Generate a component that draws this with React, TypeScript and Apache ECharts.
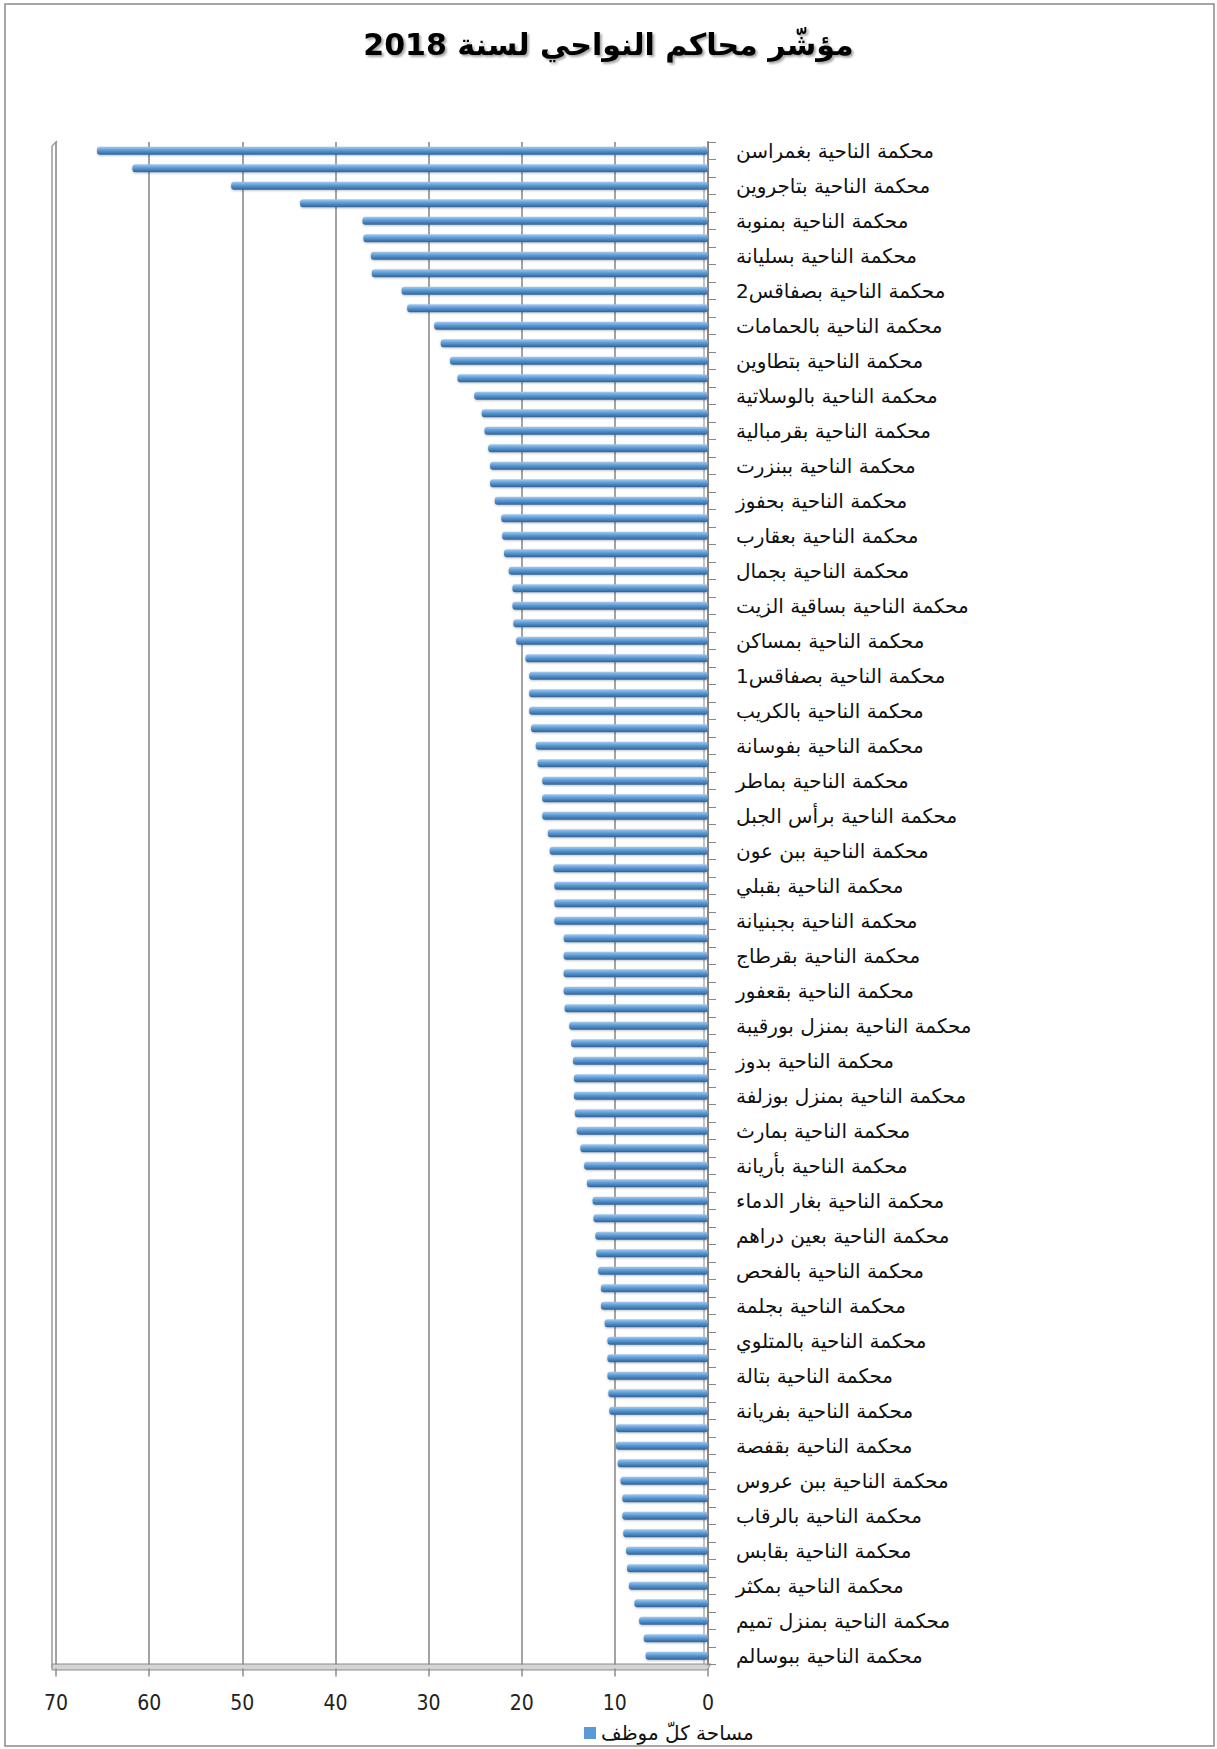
import React, { useEffect, useRef } from "react";
import * as echarts from "echarts";

const chartTitle = "مؤشّر محاكم النواحي لسنة 2018";
const seriesName = "مساحة كلّ موظف";

// Visible category labels (every other category is labelled in the reference)
const visibleLabels = [
  "محكمة الناحية بغمراسن",
  "محكمة الناحية بتاجروين",
  "محكمة الناحية بمنوبة",
  "محكمة الناحية بسليانة",
  "محكمة الناحية بصفاقس2",
  "محكمة الناحية بالحمامات",
  "محكمة الناحية بتطاوين",
  "محكمة الناحية بالوسلاتية",
  "محكمة الناحية بقرمبالية",
  "محكمة الناحية ببنزرت",
  "محكمة الناحية بحفوز",
  "محكمة الناحية بعقارب",
  "محكمة الناحية بجمال",
  "محكمة الناحية بساقية الزيت",
  "محكمة الناحية بمساكن",
  "محكمة الناحية بصفاقس1",
  "محكمة الناحية بالكريب",
  "محكمة الناحية بفوسانة",
  "محكمة الناحية بماطر",
  "محكمة الناحية برأس الجبل",
  "محكمة الناحية ببن عون",
  "محكمة الناحية بقبلي",
  "محكمة الناحية بجبنيانة",
  "محكمة الناحية بقرطاج",
  "محكمة الناحية بقعفور",
  "محكمة الناحية بمنزل بورقيبة",
  "محكمة الناحية بدوز",
  "محكمة الناحية بمنزل بوزلفة",
  "محكمة الناحية بمارث",
  "محكمة الناحية بأريانة",
  "محكمة الناحية بغار الدماء",
  "محكمة الناحية بعين دراهم",
  "محكمة الناحية بالفحص",
  "محكمة الناحية بجلمة",
  "محكمة الناحية بالمتلوي",
  "محكمة الناحية بتالة",
  "محكمة الناحية بفريانة",
  "محكمة الناحية بقفصة",
  "محكمة الناحية ببن عروس",
  "محكمة الناحية بالرقاب",
  "محكمة الناحية بقابس",
  "محكمة الناحية بمكثر",
  "محكمة الناحية بمنزل تميم",
  "محكمة الناحية ببوسالم",
];

// Area per employee, one value per court (top to bottom)
const areaPerEmployee = [
  65.6, 61.8, 51.2, 43.8, 37.1, 37.0, 36.2, 36.1, 32.9, 32.3,
  29.4, 28.7, 27.7, 26.9, 25.1, 24.3, 24.0, 23.6, 23.4, 23.4,
  22.9, 22.2, 22.1, 21.9, 21.4, 21.0, 21.0, 20.9, 20.6, 19.6,
  19.2, 19.2, 19.2, 19.0, 18.5, 18.3, 17.8, 17.8, 17.8, 17.2,
  17.0, 16.6, 16.5, 16.5, 16.5, 15.5, 15.5, 15.5, 15.5, 15.4,
  14.9, 14.7, 14.5, 14.4, 14.4, 14.3, 14.1, 13.7, 13.3, 13.0,
  12.4, 12.3, 12.1, 12.0, 11.8, 11.5, 11.5, 11.1, 10.8, 10.8,
  10.8, 10.7, 10.6, 9.9, 9.9, 9.7, 9.4, 9.2, 9.2, 9.1,
  8.8, 8.7, 8.5, 7.9, 7.4, 6.9, 6.7,
];

const axisMin = 0;
const axisMax = 70;
const axisStep = 10;

// Unlabelled categories keep an empty label (they are hidden in the reference)
const categories = areaPerEmployee.map((_, i) =>
  i % 2 === 0 ? visibleLabels[i / 2] : ""
);

export default function App() {
  const ref = useRef<HTMLDivElement>(null);

  useEffect(() => {
    if (!ref.current) return;
    const chart = echarts.init(ref.current, null, { renderer: "svg" });
    const gridTop = 142;
    const catStep = 17.5;
    const gridHeight = catStep * categories.length;
    const gridLeft = 56;
    const gridRight = 1217 - 708;

    chart.setOption({
      animation: false,
      backgroundColor: "#ffffff",
      title: {
        text: chartTitle,
        left: "center",
        top: 24,
        textStyle: {
          fontFamily: "'DejaVu Sans', sans-serif",
          fontWeight: "bold",
          fontSize: 30,
          color: "#000",
          textShadowColor: "rgba(0,0,0,0.35)",
          textShadowOffsetX: 2,
          textShadowOffsetY: 2,
          textShadowBlur: 2,
        },
      },
      legend: {
        data: [seriesName],
        left: 579,
        top: 1718,
        icon: "rect",
        itemWidth: 12,
        itemHeight: 12,
        itemGap: 6,
        itemStyle: { color: "#5b9bd5" },
        textStyle: {
          fontFamily: "'DejaVu Sans', sans-serif",
          fontSize: 20,
          color: "#111",
        },
      },
      grid: {
        left: gridLeft,
        right: gridRight,
        top: gridTop,
        height: gridHeight,
      },
      xAxis: {
        type: "value",
        inverse: true,
        min: axisMin,
        max: axisMax,
        interval: axisStep,
        position: "bottom",
        offset: 4,
        axisLine: { show: false },
        axisTick: {
          show: true,
          length: 8,
          lineStyle: { color: "#8c8c8c", width: 1.5 },
        },
        axisLabel: {
          margin: 24,
          fontSize: 21,
          color: "#222",
          fontFamily:
            "'Liberation Sans Narrow', 'Arial Narrow', 'DejaVu Sans Condensed', 'Roboto Condensed', sans-serif",
        },
        splitLine: {
          show: true,
          lineStyle: { color: "#8c8c8c", width: 1.6 },
        },
      },
      yAxis: {
        type: "category",
        data: categories,
        inverse: true,
        position: "right",
        axisLine: { show: true, lineStyle: { color: "#868686", width: 2 } },
        axisTick: {
          show: true,
          interval: 0,
          length: 8,
          lineStyle: { color: "#868686", width: 1 },
        },
        axisLabel: {
          interval: 0,
          margin: 28,
          fontSize: 20,
          color: "#111",
          fontFamily: "'DejaVu Sans', sans-serif",
        },
        splitLine: { show: false },
      },
      series: [
        {
          name: seriesName,
          type: "bar",
          data: areaPerEmployee,
          barWidth: 8,
          itemStyle: {
            borderRadius: 3,
            shadowColor: "rgba(0,0,0,0.25)",
            shadowBlur: 2,
            shadowOffsetY: 1,
            color: new echarts.graphic.LinearGradient(0, 0, 0, 1, [
              { offset: 0, color: "#a6c9ee" },
              { offset: 0.45, color: "#5b9bd5" },
              { offset: 1, color: "#2f6296" },
            ]),
          },
        },
      ],
      graphic: [
        {
          type: "rect",
          z: -10,
          shape: { x: 5, y: 4, width: 1209, height: 1742 },
          style: { fill: "none", stroke: "#8a8a8a", lineWidth: 1.5 },
        },
        {
          type: "line",
          z: 0,
          shape: { x1: 52, y1: 146, x2: 52, y2: 1668 },
          style: { stroke: "#9a9a9a", lineWidth: 1.5 },
        },
        {
          type: "line",
          z: 0,
          shape: { x1: 52, y1: 146, x2: 57, y2: 141 },
          style: { stroke: "#9a9a9a", lineWidth: 1.5 },
        },
        {
          type: "line",
          z: 0,
          shape: { x1: 704, y1: 146, x2: 704, y2: 1664 },
          style: { stroke: "#9a9a9a", lineWidth: 1.2 },
        },
        {
          type: "polygon",
          z: 0,
          shape: {
            points: [
              [52, 1664],
              [711, 1664],
              [707, 1670],
              [52, 1670],
            ],
          },
          style: { fill: "#d4d4d4", stroke: "#8c8c8c", lineWidth: 1 },
        },
      ],
    });

    return () => chart.dispose();
  }, []);

  return (
    <div
      ref={ref}
      style={{
        position: "absolute",
        left: 0,
        top: 0,
        width: 1217,
        height: 1749,
        background: "#fff",
      }}
    />
  );
}
